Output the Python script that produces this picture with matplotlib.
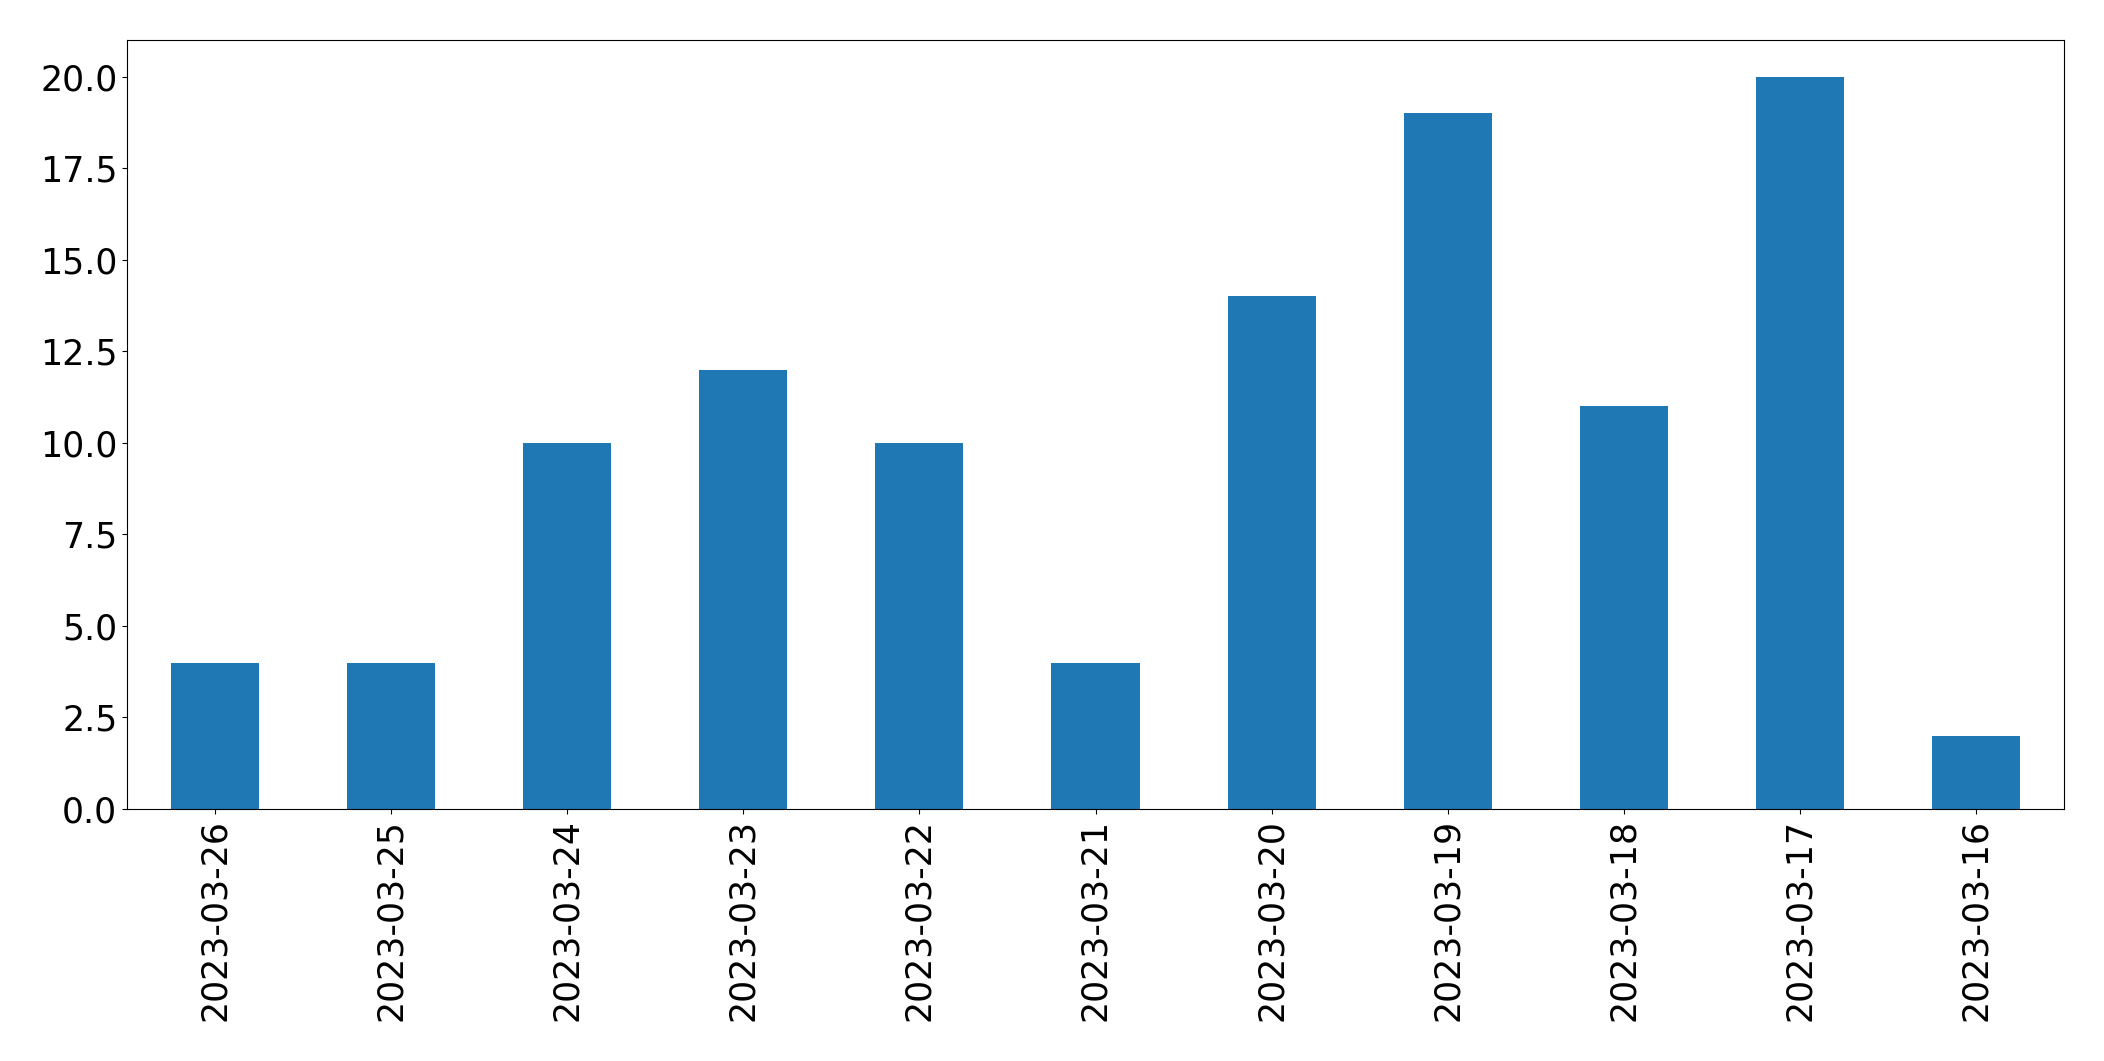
import matplotlib
matplotlib.use("Agg")
import matplotlib.pyplot as plt
import numpy as np

dates = ["2023-03-26", "2023-03-25", "2023-03-24", "2023-03-23", "2023-03-22",
         "2023-03-21", "2023-03-20", "2023-03-19", "2023-03-18", "2023-03-17", "2023-03-16"]
counts = [4, 4, 10, 12, 10, 4, 14, 19, 11, 20, 2]

fig = plt.figure(figsize=(21.04, 10.61), dpi=100)
ax = fig.add_axes([127/2104, 1-809/1061, (2064-127)/2104, (809-40)/1061])
x = np.arange(len(dates))
ax.bar(x, counts, width=0.5, color="#1f77b4")
ax.set_xlim(-0.5, len(dates) - 0.5)
ax.set_ylim(0, 21)
ax.set_xticks(x)
ax.set_xticklabels(dates, rotation=90)
ax.set_yticks(np.arange(0, 20.1, 2.5))
ax.tick_params(labelsize=25)
fig.savefig("out.png", dpi=100)
